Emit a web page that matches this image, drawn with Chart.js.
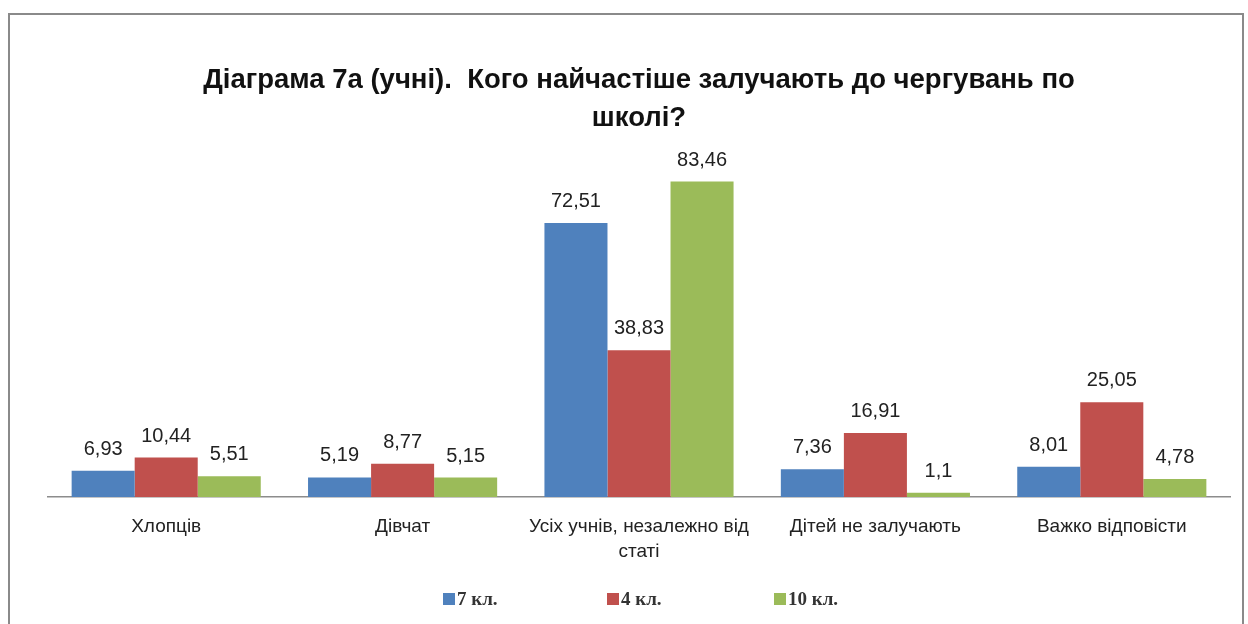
<!DOCTYPE html>
<html><head><meta charset="utf-8">
<script src="https://cdn.jsdelivr.net/npm/chart.js@4/dist/chart.umd.min.js"></script>
<style>html,body{margin:0;padding:0;background:#fff;}canvas{display:block;}</style>
</head><body>
<canvas id="c" width="1248" height="624"></canvas>
<script>
const categories = ["Хлопців", "Дівчат", ["Усіх учнів, незалежно від", "статі"], "Дітей не залучають", "Важко відповісти"];
const seriesNames = ["7 кл.", "4 кл.", "10 кл."];
const grade7 = [6.93, 5.19, 72.51, 7.36, 8.01];
const grade4 = [10.44, 8.77, 38.83, 16.91, 25.05];
const grade10 = [5.51, 5.15, 83.46, 1.1, 4.78];
const colors = ["#4F81BD", "#C0504D", "#9BBB59"];
const titleLines = ["Діаграма 7а (учні).  Кого найчастіше залучають до чергувань по", "школі?"];

const frame = {
  id: 'frame',
  beforeDraw(chart) {
    const ctx = chart.ctx;
    ctx.save();
    ctx.fillStyle = '#fff';
    ctx.fillRect(0, 0, chart.width, chart.height);
    ctx.strokeStyle = '#8a8a8a';
    ctx.lineWidth = 2;
    ctx.strokeRect(9, 14, 1234, 640);
    ctx.restore();
  }
};

const valueLabels = {
  id: 'valueLabels',
  afterDatasetsDraw(chart) {
    const ctx = chart.ctx;
    ctx.save();
    ctx.font = '20px "Liberation Sans", Arial, sans-serif';
    ctx.fillStyle = '#222';
    ctx.textAlign = 'center';
    ctx.textBaseline = 'alphabetic';
    chart.data.datasets.forEach((ds, i) => {
      chart.getDatasetMeta(i).data.forEach((bar, j) => {
        ctx.fillText(String(ds.data[j]).replace('.', ','), bar.x, bar.y - 16);
      });
    });
    ctx.restore();
  }
};

const customLegend = {
  id: 'customLegend',
  afterDraw(chart) {
    const ctx = chart.ctx;
    ctx.save();
    ctx.font = 'bold 19px "Liberation Serif", "Times New Roman", serif';
    ctx.textBaseline = 'middle';
    const y = 599;
    const xs = [443, 607, 774];
    chart.data.datasets.forEach((ds, i) => {
      ctx.fillStyle = ds.backgroundColor;
      ctx.fillRect(xs[i], y - 6, 12, 12);
      ctx.fillStyle = '#333';
      ctx.fillText(ds.label, xs[i] + 14, y + 1);
    });
    ctx.restore();
  }
};

new Chart(document.getElementById('c'), {
  type: 'bar',
  data: {
    labels: categories,
    datasets: [
      { label: seriesNames[0], data: grade7, backgroundColor: colors[0] },
      { label: seriesNames[1], data: grade4, backgroundColor: colors[1] },
      { label: seriesNames[2], data: grade10, backgroundColor: colors[2] }
    ]
  },
  options: {
    responsive: false,
    animation: false,
    devicePixelRatio: 1,
    layout: { padding: { top: 50, left: 48, right: 18, bottom: 0 } },
    datasets: { bar: { categoryPercentage: 0.8, barPercentage: 1.0 } },
    plugins: {
      legend: { display: false },
      tooltip: { enabled: false },
      title: {
        display: true,
        text: titleLines,
        color: '#111',
        font: { family: '"Liberation Sans", Arial, sans-serif', size: 27.5, weight: 'bold', lineHeight: 1.36 },
        padding: { top: 12, bottom: 20 }
      }
    },
    scales: {
      y: { display: false, min: 0, max: 90 },
      x: {
        afterFit(scale) { scale.height = 127; },
        grid: { display: false, drawTicks: false },
        border: { display: true, color: '#8c8c8c', width: 1.5 },
        ticks: {
          color: '#222',
          padding: 17,
          maxRotation: 0,
          autoSkip: false,
          font: { family: '"Liberation Sans", Arial, sans-serif', size: 19, lineHeight: 1.32 }
        }
      }
    }
  },
  plugins: [frame, valueLabels, customLegend]
});
</script>
</body></html>
